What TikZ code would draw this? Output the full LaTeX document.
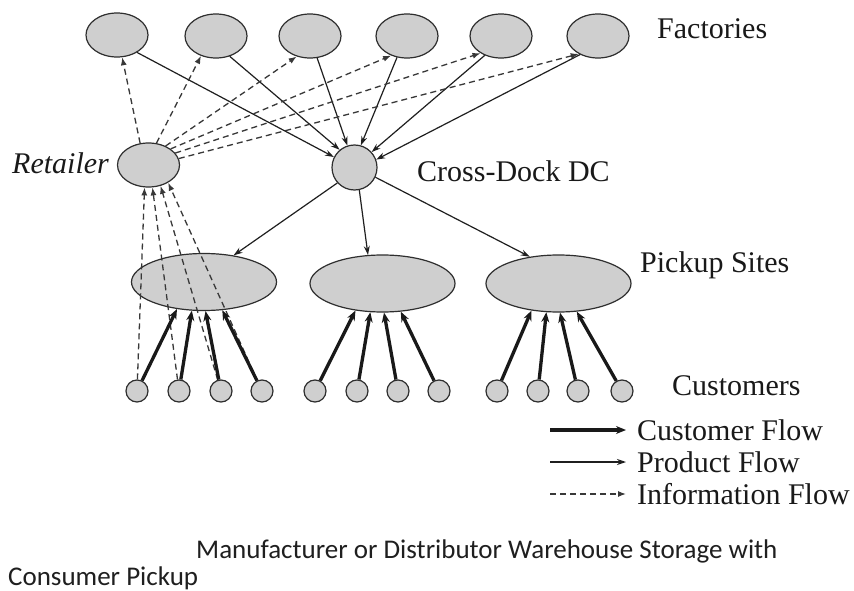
\documentclass[tikz,border=0pt]{standalone}
\usepackage{fontspec}
\setmainfont{Liberation Serif}
\newfontfamily\capfont{Carlito}
\usetikzlibrary{arrows.meta,shapes.geometric}

\begin{document}
\begin{tikzpicture}[x=1pt,y=-1pt,
  blob/.style={draw=black!82, fill=black!19, line width=1.2pt, inner sep=0pt},
  factory/.style={blob, ellipse, minimum width=62pt, minimum height=44pt},
  dcnode/.style={blob, circle, minimum size=45pt},
  site/.style={blob, ellipse, minimum width=145pt, minimum height=57pt},
  cust/.style={blob, circle, minimum size=22pt},
  prodflow/.style={draw=black!88, line width=1.2pt, -{Stealth[length=9pt,width=6pt]}},
  custflow/.style={draw=black!90, line width=3.3pt, -{Stealth[length=10pt,width=8pt]}},
  infoflow/.style={draw=black!78, line width=1.3pt, dash pattern=on 6pt off 4pt, -{Latex[length=8pt,width=6pt]}},
  lbl/.style={anchor=base west, inner sep=0pt, text=black!90, font=\fontsize{30}{36}\selectfont},
  captext/.style={anchor=base west, inner sep=0pt, text=black!88, font=\capfont\fontsize{27}{32}\selectfont}]

% canvas
\fill[white] (0,0) rectangle (854,591);
\useasboundingbox (0,0) rectangle (854,591);

% factories
\node[factory] (f1) at (117,35) {};
\node[factory] (f2) at (216,36) {};
\node[factory] (f3) at (310,36) {};
\node[factory] (f4) at (407,36) {};
\node[factory] (f5) at (501,36) {};
\node[factory] (f6) at (598,36) {};

% retailer and cross-dock
\node[factory] (ret) at (148.5,165) {};
\node[dcnode] (dc) at (354.5,167.5) {};

% pickup sites
\node[site] (p1) at (204,282) {};
\node[site] (p2) at (382.5,283.5) {};
\node[site] (p3) at (558.5,283.5) {};

% customers
\foreach \i/\x in {1/137,2/179,3/221,4/262} \node[cust] (a\i) at (\x,391) {};
\foreach \i/\x in {1/315,2/357,3/398,4/439} \node[cust] (b\i) at (\x,391) {};
\foreach \i/\x in {1/497,2/538,3/578,4/622} \node[cust] (c\i) at (\x,391) {};

% labels
\node[lbl] (tf) at (657,39) {Factories};
\node[lbl] (tr) at (12,173) {\itshape Retailer};
\node[lbl] (td) at (417,181) {Cross-Dock DC};
\node[lbl] (tp) at (640,272) {Pickup Sites};
\node[lbl] (tc) at (672,395) {Customers};

% product flow: factories to cross-dock
\draw[prodflow] (f1.-41) -- (dc.153);
\draw[prodflow] (f2.-56) -- (dc.130);
\draw[prodflow] (f3.-72) -- (dc.108);
\draw[prodflow] (f4.-115) -- (dc.74);
\draw[prodflow] (f5.-130) -- (dc.42);
\draw[prodflow] (f6.-134) -- (dc.20);

% product flow: cross-dock to pickup sites
\draw[prodflow] (dc.-138) -- (p1.42);
\draw[prodflow] (dc.-78) -- (p2.117);
\draw[prodflow] (dc.-25) -- (p3.137);

% information flow: retailer to factories
\draw[infoflow] (ret.111) -- (f1.-77);
\draw[infoflow] (ret.70) -- (f2.-127);
\draw[infoflow] (ret.48) -- (f3.-123);
\draw[infoflow] (ret.36) -- (f4.-129);
\draw[infoflow] (ret.24) -- (f5.-140);
\draw[infoflow] (ret.12) -- (f6.-137);

% information flow: customers to retailer
\draw[infoflow] (a1) -- (ret.-100);
\draw[infoflow] (a2) -- (ret.-80);
\draw[infoflow] (a3) -- (ret.-60);
\draw[infoflow] (a4) -- (ret.-42);

% customer flow: customers to pickup sites
\foreach \s/\c in {p1/a,p2/b,p3/c} {
  \draw[custflow] (\c1) -- (\s.-135);
  \draw[custflow] (\c2) -- (\s.-113);
  \draw[custflow] (\c3) -- (\s.-87);
  \draw[custflow] (\c4) -- (\s.-57);
}

% legend
\coordinate (k1a) at (550,430); \coordinate (k1b) at (626,430);
\coordinate (k2a) at (550,462); \coordinate (k2b) at (626,462);
\coordinate (k3a) at (550,494); \coordinate (k3b) at (626,494);
\draw[custflow] (k1a) -- (k1b);
\draw[prodflow] (k2a) -- (k2b);
\draw[infoflow] (k3a) -- (k3b);
\node[lbl] (k1) at (637,440) {Customer Flow};
\node[lbl] (k2) at (637,472) {Product Flow};
\node[lbl] (k3) at (637,504) {Information Flow};

% caption
\node[captext] (c1t) at (196,558) {Manufacturer or Distributor Warehouse Storage with};
\node[captext] (c2t) at (8,585) {Consumer Pickup};
\end{tikzpicture}
\end{document}
